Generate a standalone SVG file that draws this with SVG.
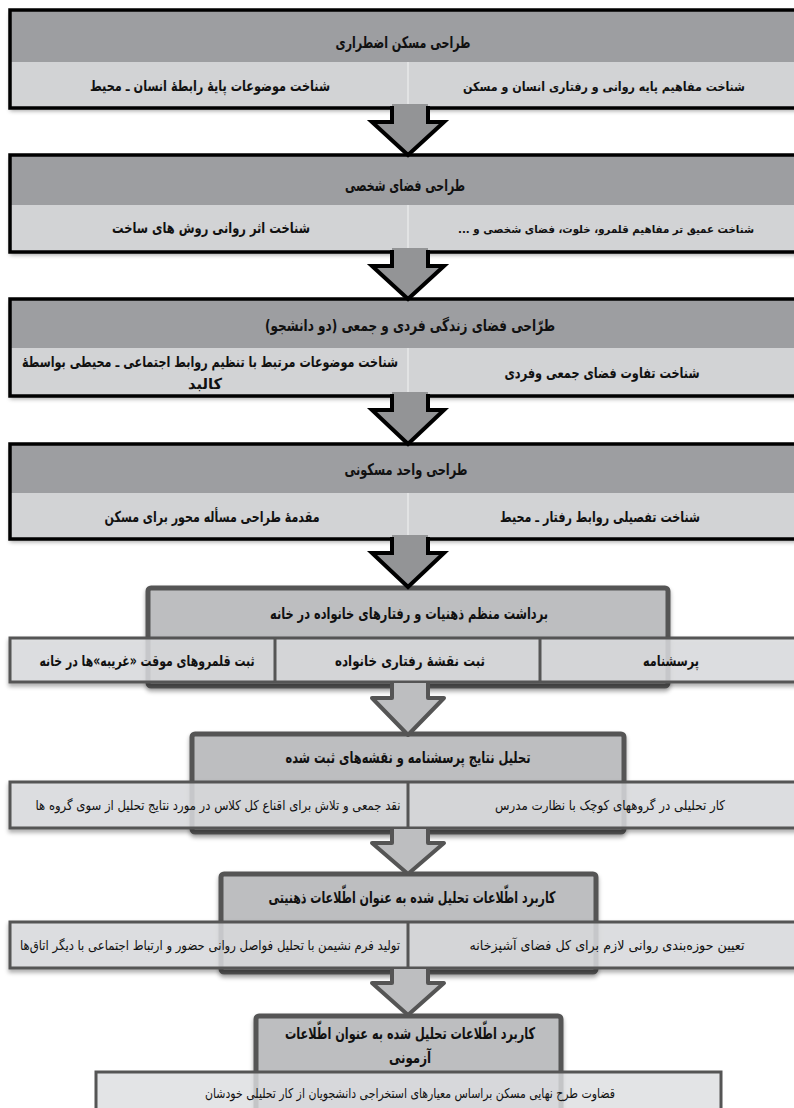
<svg xmlns="http://www.w3.org/2000/svg" width="794" height="1108" viewBox="0 0 794 1108">
<defs>
<filter id="sh" x="-5%" y="-10%" width="110%" height="130%">
<feDropShadow dx="0" dy="3" stdDeviation="2" flood-color="#000" flood-opacity="0.35"/>
</filter>
</defs>
<style>
text{font-family:"DejaVu Sans","Noto Sans",sans-serif;fill:#111;text-anchor:middle;direction:rtl}
.h{font-size:16px;font-weight:bold}
.l{font-size:15px;font-weight:bold}
.r{font-size:12.5px;font-weight:bold}
.t{font-size:11px;font-weight:bold}
.s{font-size:13.5px}
.bo{fill:none;stroke:#000;stroke-width:3.5}
.hd{fill:#9d9ea1}
.lw{fill:#d2d3d5}
.dv{stroke:#e2e3e4;stroke-width:2}
.gh{fill:#bdbec0;stroke:#555;stroke-width:5}
.gl{fill:#dddee0;fill-opacity:0.82;stroke:#555;stroke-width:3}
.gd{stroke:#555;stroke-width:3}
.a1f{fill:#939496}
.a2f{fill:#bdbec0}
.a1s{fill:none;stroke:#000;stroke-width:4;stroke-linejoin:miter}
.a2s{fill:none;stroke:#555;stroke-width:4;stroke-linejoin:round}
</style>
<rect width="794" height="1108" fill="#fff"/>

<g id="node1">
<g filter="url(#sh)"><rect x="10" y="10" width="800" height="98" class="lw"/></g>
<rect x="10" y="10" width="800" height="52" class="hd"/>
<line x1="408" y1="62" x2="408" y2="106" class="dv"/>
<rect x="10" y="10" width="800" height="98" class="bo"/>
<text class="h" x="403" y="48" textLength="135" lengthAdjust="spacingAndGlyphs">طراحی مسکن اضطراری</text>
<text class="l" x="210" y="91" textLength="240" lengthAdjust="spacingAndGlyphs">شناخت موضوعات پایهٔ رابطهٔ انسان ـ محیط</text>
<text class="r" x="604" y="91" textLength="282" lengthAdjust="spacingAndGlyphs">شناخت مفاهیم پایه روانی و رفتاری انسان و مسکن</text>
</g>

<g id="node2">
<g filter="url(#sh)"><rect x="10" y="155" width="800" height="97" class="lw"/></g>
<rect x="10" y="155" width="800" height="50" class="hd"/>
<line x1="408" y1="205" x2="408" y2="250" class="dv"/>
<rect x="10" y="155" width="800" height="97" class="bo"/>
<text class="h" x="405" y="191" textLength="120" lengthAdjust="spacingAndGlyphs">طراحی فضای شخصی</text>
<text class="l" x="211" y="233" textLength="198" lengthAdjust="spacingAndGlyphs">شناخت اثر روانی روش های ساخت</text>
<text class="t" x="606" y="233" textLength="296" lengthAdjust="spacingAndGlyphs">شناخت عمیق تر مفاهیم قلمرو، خلوت، فضای شخصی و ...</text>
</g>

<g id="node3">
<g filter="url(#sh)"><rect x="10" y="299" width="800" height="97" class="lw"/></g>
<rect x="10" y="299" width="800" height="49" class="hd"/>
<line x1="408" y1="348" x2="408" y2="394" class="dv"/>
<rect x="10" y="299" width="800" height="97" class="bo"/>
<text class="h" x="410" y="331" textLength="290" lengthAdjust="spacingAndGlyphs">طرّاحی فضای زندگی فردی و جمعی (دو دانشجو)</text>
<text class="l" x="210" y="367" textLength="376" lengthAdjust="spacingAndGlyphs">شناخت موضوعات مرتبط با تنظیم روابط اجتماعی ـ محیطی  بواسطهٔ</text>
<text class="l" x="205" y="389" textLength="34" lengthAdjust="spacingAndGlyphs">کالبد</text>
<text class="l" x="602" y="378" textLength="195" lengthAdjust="spacingAndGlyphs">شناخت تفاوت فضای جمعی وفردی</text>
</g>

<g id="node4">
<g filter="url(#sh)"><rect x="10" y="444" width="800" height="95" class="lw"/></g>
<rect x="10" y="444" width="800" height="49" class="hd"/>
<line x1="408" y1="493" x2="408" y2="537" class="dv"/>
<rect x="10" y="444" width="800" height="95" class="bo"/>
<text class="h" x="406" y="475" textLength="123" lengthAdjust="spacingAndGlyphs">طراحی واحد مسکونی</text>
<text class="l" x="212" y="522" textLength="215" lengthAdjust="spacingAndGlyphs">مقدمهٔ طراحی مسأله محور برای مسکن</text>
<text class="l" x="600" y="522" textLength="200" lengthAdjust="spacingAndGlyphs">شناخت تفصیلی روابط رفتار ـ محیط</text>
</g>

<g id="node5">
<g filter="url(#sh)"><rect x="148" y="588" width="520" height="98" rx="3" class="gh"/></g>
<g filter="url(#sh)"><rect x="10" y="638" width="800" height="44" class="gl"/></g>
<line x1="275" y1="638" x2="275" y2="682" class="gd"/>
<line x1="540" y1="638" x2="540" y2="682" class="gd"/>
<text class="h" x="409" y="619" textLength="278" lengthAdjust="spacingAndGlyphs">برداشت منظم ذهنیات و رفتارهای خانواده در خانه</text>
<text class="l" x="147" y="666" textLength="215" lengthAdjust="spacingAndGlyphs">ثبت قلمروهای موقت «غریبه»ها در خانه</text>
<text class="l" x="410" y="666" textLength="150" lengthAdjust="spacingAndGlyphs">ثبت نقشهٔ رفتاری خانواده</text>
<text class="l" x="671" y="666" textLength="56" lengthAdjust="spacingAndGlyphs">پرسشنامه</text>
</g>

<g id="node6">
<g filter="url(#sh)"><rect x="192" y="734" width="432" height="98" rx="3" class="gh"/></g>
<g filter="url(#sh)"><rect x="10" y="782" width="800" height="46" class="gl"/></g>
<line x1="408" y1="782" x2="408" y2="828" class="gd"/>
<text class="h" x="408" y="763" textLength="245" lengthAdjust="spacingAndGlyphs">تحلیل نتایج پرسشنامه و نقشه‌های ثبت شده</text>
<text class="s" x="218" y="810" textLength="365" lengthAdjust="spacingAndGlyphs">نقد جمعی و تلاش برای اقناع کل کلاس در مورد نتایج تحلیل از سوی گروه ها</text>
<text class="s" x="610" y="810" textLength="230" lengthAdjust="spacingAndGlyphs">کار تحلیلی در گروههای کوچک با نظارت مدرس</text>
</g>

<g id="node7">
<g filter="url(#sh)"><rect x="221" y="874" width="375" height="98" rx="3" class="gh"/></g>
<g filter="url(#sh)"><rect x="10" y="922" width="800" height="46" class="gl"/></g>
<line x1="408" y1="922" x2="408" y2="968" class="gd"/>
<text class="h" x="412" y="903" textLength="287" lengthAdjust="spacingAndGlyphs">کاربرد اطّلاعات تحلیل شده به عنوان اطّلاعات ذهنیتی</text>
<text class="s" x="210" y="950" textLength="380" lengthAdjust="spacingAndGlyphs">تولید فرم نشیمن با تحلیل فواصل روانی حضور و ارتباط  اجتماعی با دیگر اتاق‌ها</text>
<text class="s" x="607" y="950" textLength="275" lengthAdjust="spacingAndGlyphs">تعیین حوزه‌بندی روانی لازم برای کل فضای آشپزخانه</text>
</g>

<g id="node8">
<g filter="url(#sh)"><rect x="256" y="1016" width="305" height="110" rx="3" class="gh"/></g>
<rect x="96" y="1072" width="625" height="50" class="gl"/>
<text class="h" x="410" y="1039" textLength="250" lengthAdjust="spacingAndGlyphs">کاربرد اطّلاعات تحلیل شده به عنوان اطّلاعات</text>
<text class="h" x="410" y="1063" textLength="42" lengthAdjust="spacingAndGlyphs">آزمونی</text>
<text class="s" x="410" y="1098" textLength="410" lengthAdjust="spacingAndGlyphs">قضاوت طرح نهایی مسکن براساس معیارهای استخراجی دانشجویان از کار تحلیلی خودشان</text>
</g>

<g id="connectors">
<g id="arrow1">
<polygon class="a1f" points="392,104 392,122 372,122 408,155 444,122 428,122 428,104"/>
<path class="a1s" d="M392,106 L392,122 L372,122 L408,155 L444,122 L428,122 L428,106"/>
</g>
<g id="arrow2">
<polygon class="a1f" points="392,248 392,266 372,266 408,299 444,266 428,266 428,248"/>
<path class="a1s" d="M392,250 L392,266 L372,266 L408,299 L444,266 L428,266 L428,250"/>
</g>
<g id="arrow3">
<polygon class="a1f" points="392,392 392,410 372,410 408,444 444,410 428,410 428,392"/>
<path class="a1s" d="M392,394 L392,410 L372,410 L408,444 L444,410 L428,410 L428,394"/>
</g>
<g id="arrow4">
<polygon class="a1f" points="392,535 392,553 372,553 408,587 444,553 428,553 428,535"/>
<path class="a1s" d="M392,537 L392,553 L372,553 L408,587 L444,553 L428,553 L428,537"/>
</g>
<g id="arrow5">
<polygon class="a2f" points="392,683 392,698 372,698 408,735 444,698 428,698 428,683"/>
<path class="a2s" d="M392,683 L392,698 L372,698 L408,735 L444,698 L428,698 L428,683"/>
</g>
<g id="arrow6">
<polygon class="a2f" points="392,829 392,843 372,843 408,874 444,843 428,843 428,829"/>
<path class="a2s" d="M392,829 L392,843 L372,843 L408,874 L444,843 L428,843 L428,829"/>
</g>
<g id="arrow7">
<polygon class="a2f" points="392,969 392,983 372,983 408,1015 444,983 428,983 428,969"/>
<path class="a2s" d="M392,969 L392,983 L372,983 L408,1015 L444,983 L428,983 L428,969"/>
</g>
</g>
</svg>
